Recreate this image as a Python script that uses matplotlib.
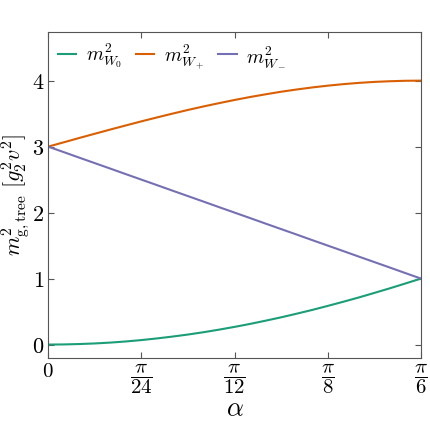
import numpy as np
import matplotlib
matplotlib.use("Agg")
import matplotlib.pyplot as plt

plt.rcParams['mathtext.fontset'] = 'cm'
plt.rcParams['font.family'] = 'serif'
plt.rcParams['font.serif'] = ['DejaVu Serif']

# alpha in units of pi/144, 0 .. 24  (0 .. pi/6)
k = np.arange(25)
alpha = k * np.pi / 144

m_w0 = [0.0, 0.002, 0.008, 0.017, 0.030, 0.047, 0.068, 0.093, 0.121, 0.152,
        0.187, 0.226, 0.268, 0.313, 0.362, 0.413, 0.468, 0.525, 0.586, 0.649,
        0.714, 0.783, 0.853, 0.926, 1.0]
m_wp = [3.0, 3.065, 3.131, 3.195, 3.259, 3.321, 3.383, 3.442, 3.5, 3.556,
        3.609, 3.659, 3.707, 3.752, 3.793, 3.832, 3.866, 3.897, 3.924, 3.947,
        3.966, 3.981, 3.991, 3.998, 4.0]
m_wm = [3.0, 2.917, 2.833, 2.75, 2.667, 2.583, 2.5, 2.417, 2.333, 2.25,
        2.167, 2.083, 2.0, 1.917, 1.833, 1.75, 1.667, 1.583, 1.5, 1.417,
        1.333, 1.25, 1.167, 1.083, 1.0]

xticks = [0, np.pi / 24, np.pi / 12, np.pi / 8, np.pi / 6]
xlabels = [r'$0$', r'$\dfrac{\pi}{24}$', r'$\dfrac{\pi}{12}$', r'$\dfrac{\pi}{8}$', r'$\dfrac{\pi}{6}$']
yticks = [0, 1, 2, 3, 4]

fig = plt.figure(figsize=(4.3, 4.3), dpi=100)
ax = fig.add_axes([0.112, 0.168, 0.867, 0.758])

ax.plot(alpha, m_w0, color='#1b9e77', lw=1.5, label=r'$m^2_{W_0}$')
ax.plot(alpha, m_wp, color='#d95f02', lw=1.5, label=r'$m^2_{W_+}$')
ax.plot(alpha, m_wm, color='#7570b3', lw=1.5, label=r'$m^2_{W_-}$')

ax.set_xlim(0, np.pi / 6)
ax.set_ylim(-0.2, 4.74)
ax.set_xticks(xticks)
ax.set_xticklabels(xlabels, fontsize=15, va='top')
ax.set_yticks(yticks)
ax.set_yticklabels([rf'${v}$' for v in yticks], fontsize=16)
ax.tick_params(direction='in', top=True, right=True, length=4, color='#555555', pad=3)
for s in ax.spines.values():
    s.set_color('#555555')

ax.set_xlabel(r'$\alpha$', fontsize=19, labelpad=0)
ax.set_ylabel(r'$m^2_{\mathrm{g,tree}}\ [g_2^2 v^2]$', fontsize=16, labelpad=0)

ax.legend(loc='upper left', ncol=3, frameon=False, fontsize=14,
          handlelength=0.95, handletextpad=0.5, columnspacing=0.7,
          borderaxespad=0.2, borderpad=0.3)

fig.savefig('out.png', dpi=100)
